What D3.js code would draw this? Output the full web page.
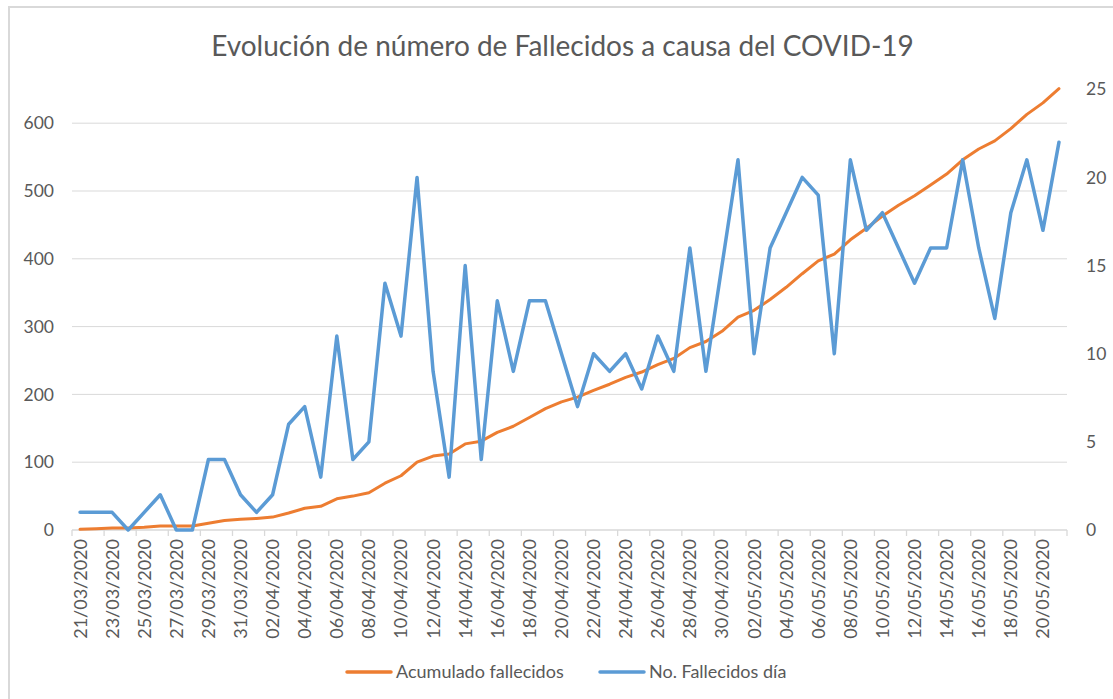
<!DOCTYPE html>
<html>
<head>
<meta charset="utf-8">
<script src="https://cdn.jsdelivr.net/npm/d3@7"></script>
<style>
  body { margin: 0; background: #fff; }
  svg { display: block; font-family: Lato, "Open Sans", sans-serif; }
</style>
</head>
<body>
<svg id="chart" width="1113" height="699"></svg>
<script>
    "use strict";

    // dates shown on the category axis (one per day)
    var fechas = ["21/03/2020", "22/03/2020", "23/03/2020", "24/03/2020", "25/03/2020", "26/03/2020",
        "27/03/2020", "28/03/2020", "29/03/2020", "30/03/2020", "31/03/2020", "01/04/2020",
        "02/04/2020", "03/04/2020", "04/04/2020", "05/04/2020", "06/04/2020", "07/04/2020",
        "08/04/2020", "09/04/2020", "10/04/2020", "11/04/2020", "12/04/2020", "13/04/2020",
        "14/04/2020", "15/04/2020", "16/04/2020", "17/04/2020", "18/04/2020", "19/04/2020",
        "20/04/2020", "21/04/2020", "22/04/2020", "23/04/2020", "24/04/2020", "25/04/2020",
        "26/04/2020", "27/04/2020", "28/04/2020", "29/04/2020", "30/04/2020", "01/05/2020",
        "02/05/2020", "03/05/2020", "04/05/2020", "05/05/2020", "06/05/2020", "07/05/2020",
        "08/05/2020", "09/05/2020", "10/05/2020", "11/05/2020", "12/05/2020", "13/05/2020",
        "14/05/2020", "15/05/2020", "16/05/2020", "17/05/2020", "18/05/2020", "19/05/2020",
        "20/05/2020", "21/05/2020"];

    // Acumulado fallecidos (left axis)
    var acumulado = [1, 2, 3, 3, 4, 6, 6, 6, 10, 14, 16, 17, 19, 25, 32, 35, 46, 50, 55, 69,
        80, 100, 109, 112, 127, 131, 144, 153, 166, 179, 189, 196, 206, 215, 225, 233, 244, 253,
        269, 278, 293, 314, 324, 340, 358, 378, 397, 407, 428, 445, 463, 479, 493, 509, 525, 546,
        562, 574, 592, 613, 630, 651];

    // No. Fallecidos dia (right axis)
    var diarios = [1, 1, 1, 0, 1, 2, 0, 0, 4, 4, 2, 1, 2, 6, 7, 3, 11, 4, 5, 14,
        11, 20, 9, 3, 15, 4, 13, 9, 13, 13, 10, 7, 10, 9, 10, 8, 11, 9, 16, 9,
        15, 21, 10, 16, 18, 20, 19, 10, 21, 17, 18, 16, 14, 16, 16, 21, 16, 12, 18, 21,
        17, 22];

    var ticksIzq = [0, 100, 200, 300, 400, 500, 600];
    var ticksDer = [0, 5, 10, 15, 20, 25];

    var titulo = "Evolución de número de Fallecidos a causa del COVID-19";
    var series = [
        { nombre: "Acumulado fallecidos", color: "#ED7D31" },
        { nombre: "No. Fallecidos día", color: "#5B9BD5" }
    ];

    var grey = "#595959";
    var gridColor = "#d9d9d9";
    var plot = { left: 72, right: 1067, top: 89.3, bottom: 530 };

    var svg = d3.select("#chart");

    // chart border
    svg.append("rect")
        .attr("x", 9).attr("y", 7)
        .attr("width", 1113).attr("height", 720)
        .attr("fill", "none")
        .attr("stroke", gridColor)
        .attr("stroke-width", 2);

    var x = d3.scaleBand()
        .domain(fechas)
        .range([plot.left, plot.right])
        .padding(0);

    var yIzq = d3.scaleLinear().domain([0, 650]).range([plot.bottom, plot.top]);
    var yDer = d3.scaleLinear().domain([0, 25]).range([plot.bottom, plot.top]);

    var cx = function(d) { return x(d) + x.bandwidth() / 2; };

    // title
    svg.append("text")
        .attr("x", 562.5)
        .attr("y", 56)
        .attr("text-anchor", "middle")
        .attr("font-size", 28)
        .attr("fill", grey)
        .text(titulo);

    // gridlines
    svg.append("g")
        .selectAll("line")
        .data(ticksIzq.filter(function(t) { return t > 0; }))
        .join("line")
        .attr("x1", plot.left).attr("x2", plot.right)
        .attr("y1", function(d) { return yIzq(d); })
        .attr("y2", function(d) { return yIzq(d); })
        .attr("stroke", gridColor)
        .attr("stroke-width", 1);

    // left axis
    var axisIzq = svg.append("g")
        .attr("transform", "translate(" + plot.left + ",0)")
        .call(d3.axisLeft(yIzq).tickValues(ticksIzq).tickSize(0).tickPadding(18));
    axisIzq.select(".domain").remove();
    axisIzq.selectAll("text")
        .attr("font-family", "Lato, sans-serif")
        .attr("font-size", 17.5)
        .attr("fill", grey);

    // right axis
    var axisDer = svg.append("g")
        .attr("transform", "translate(" + plot.right + ",0)")
        .call(d3.axisRight(yDer).tickValues(ticksDer).tickSize(0).tickPadding(19));
    axisDer.select(".domain").remove();
    axisDer.selectAll("text")
        .attr("font-family", "Lato, sans-serif")
        .attr("font-size", 17.5)
        .attr("fill", grey);

    // category axis: line, tick marks every 2 days, rotated labels
    var ejeX = svg.append("g");
    ejeX.append("line")
        .attr("x1", plot.left).attr("x2", plot.right)
        .attr("y1", plot.bottom).attr("y2", plot.bottom)
        .attr("stroke", gridColor).attr("stroke-width", 1.3);

    var bordes = fechas.filter(function(d, i) { return i % 2 === 0; }).map(function(d) { return x(d); });
    bordes.push(plot.right);
    ejeX.selectAll("line.tick")
        .data(bordes)
        .join("line")
        .attr("class", "tick")
        .attr("x1", function(d) { return d; }).attr("x2", function(d) { return d; })
        .attr("y1", plot.bottom).attr("y2", plot.bottom + 6)
        .attr("stroke", gridColor).attr("stroke-width", 1.3);

    ejeX.selectAll("text")
        .data(fechas.filter(function(d, i) { return i % 2 === 0; }))
        .join("text")
        .attr("transform", function(d) { return "translate(" + (cx(d) + 6.5) + "," + (plot.bottom + 9) + ")rotate(-90)"; })
        .attr("text-anchor", "end")
        .attr("font-size", 18)
        .attr("fill", grey)
        .text(function(d) { return d; });

    // lines
    var lineaIzq = d3.line()
        .x(function(d, i) { return cx(fechas[i]); })
        .y(function(d) { return yIzq(d); });
    var lineaDer = d3.line()
        .x(function(d, i) { return cx(fechas[i]); })
        .y(function(d) { return yDer(d); });

    svg.append("path")
        .datum(acumulado)
        .attr("d", lineaIzq)
        .attr("fill", "none")
        .attr("stroke", series[0].color)
        .attr("stroke-width", 3)
        .attr("stroke-linejoin", "round")
        .attr("stroke-linecap", "round");

    svg.append("path")
        .datum(diarios)
        .attr("d", lineaDer)
        .attr("fill", "none")
        .attr("stroke", series[1].color)
        .attr("stroke-width", 3.5)
        .attr("stroke-linejoin", "round")
        .attr("stroke-linecap", "round");

    // legend
    var leyendaX = [347, 600];
    var leyenda = svg.append("g")
        .selectAll("g")
        .data(series)
        .join("g")
        .attr("transform", function(d, i) { return "translate(" + leyendaX[i] + ",672)"; });
    leyenda.append("line")
        .attr("x1", 0).attr("x2", 44)
        .attr("stroke", function(d) { return d.color; })
        .attr("stroke-width", 3.5)
        .attr("stroke-linecap", "round");
    leyenda.append("text")
        .attr("x", 49)
        .attr("y", 6)
        .attr("font-size", 18)
        .attr("fill", grey)
        .text(function(d) { return d.nombre; });
</script>
</body>
</html>
